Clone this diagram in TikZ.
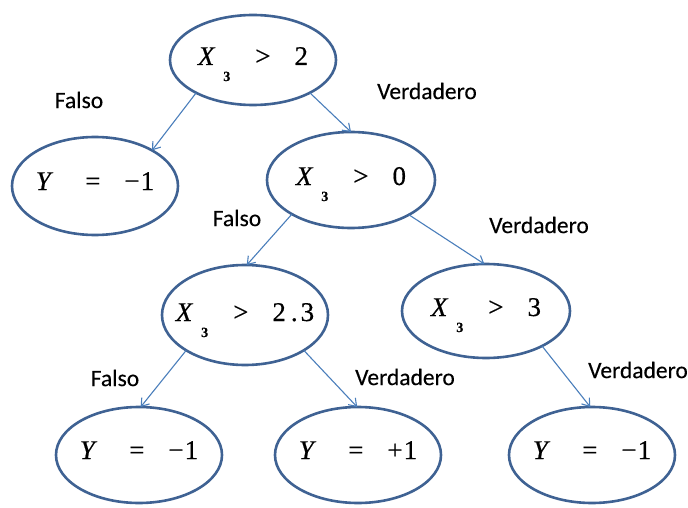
\documentclass[tikz,border=0pt]{standalone}
\usepackage{fontspec}
\setmainfont{Liberation Serif}
\newfontfamily\exprfont[FakeBold=0.5]{Liberation Serif}
\newfontfamily\labelfont[FakeBold=0.3]{Carlito}
\usetikzlibrary{shapes.geometric,arrows.meta}
\definecolor{rim}{HTML}{3F6293}
\definecolor{wire}{HTML}{4A7EBB}
% subscript index of the tested variable
\newcommand\xsub{\raisebox{-16pt}{\fontsize{14}{14}\selectfont\bfseries 3}}
% "X_3 > value" test and "Y = value" leaf
\newcommand\testx[1]{\textit{X}\hspace{8pt}\xsub\hspace{25pt}>\hspace{24pt}#1}
\newcommand\yval[1]{\textit{Y}\hspace{32pt}=\hspace{24pt}#1}

\begin{document}
\begin{tikzpicture}[x=1pt,y=-1pt,
  oval/.style={ellipse, draw=rim, line width=2.6pt, inner sep=0pt, outer sep=0pt,
               minimum width=166pt, minimum height=94pt},
  expr/.style={anchor=base, inner sep=0pt, font=\exprfont\fontsize{27}{27}\selectfont},
  branch/.style={font=\labelfont\fontsize{23.5}{23.5}\selectfont, inner sep=0pt},
  link/.style={draw=wire, line width=1.1pt, -{Straight Barb[length=7pt,width=10pt]}}]

\useasboundingbox (0,0) rectangle (688,508);

% decision nodes and leaves
\node[oval, minimum height=90pt] (r)  at (253,60)  {};
\node[oval, minimum height=98pt] (y1) at (95,186)  {};
\node[oval, minimum width=168pt, minimum height=96pt] (n0) at (351,180) {};
\node[oval, minimum height=100pt] (n1) at (245,315) {};
\node[oval, minimum width=168pt] (n2) at (486,311) {};
\node[oval, minimum height=96pt] (b1) at (139,455) {};
\node[oval, minimum height=96pt] (b2) at (358,455) {};
\node[oval, minimum height=96pt] (b3) at (592,455) {};

% node contents
\node[expr] (rt)  at ([yshift=-5pt]r.center)  {\testx{2}};
\node[expr] (y1t) at ([yshift=-4pt]y1.center) {\yval{−\hspace{1pt}1}};
\node[expr] (n0t) at ([yshift=-5pt]n0.center) {\testx{0}};
\node[expr] (n1t) at ([yshift=-6pt]n1.center) {\testx{2\hspace{5pt}.\hspace{3pt}3}};
\node[expr] (n2t) at ([yshift=-5pt]n2.center) {\testx{3}};
\node[expr] (b1t) at ([yshift=-4pt]b1.center) {\yval{−\hspace{1pt}1}};
\node[expr] (b2t) at ([yshift=-4pt]b2.center) {\yval{+\hspace{1pt}1}};
\node[expr] (b3t) at ([yshift=-4pt]b3.center) {\yval{−\hspace{1pt}1}};

% branches
\draw[link] (r.210)  -- (y1.32);
\draw[link] (r.330)  -- (n0.90);
\draw[link] (n0.210) -- (n1.88);
\draw[link] (n0.329) -- (n2.92);
\draw[link] (n1.211) -- (b1.88);
\draw[link] (n1.329) -- (b2.91);
\draw[link] (n2.328) -- (b3.92);

% branch labels
\node[branch] (f1) at (79,100)  {Falso};
\node[branch] (v1) at (427,91)  {Verdadero};
\node[branch] (f2) at (237,218) {Falso};
\node[branch] (v2) at (539,225) {Verdadero};
\node[branch] (f3) at (115,378) {Falso};
\node[branch] (v3) at (405,377) {Verdadero};
\node[branch] (v4) at (638,370) {Verdadero};
\end{tikzpicture}
\end{document}
